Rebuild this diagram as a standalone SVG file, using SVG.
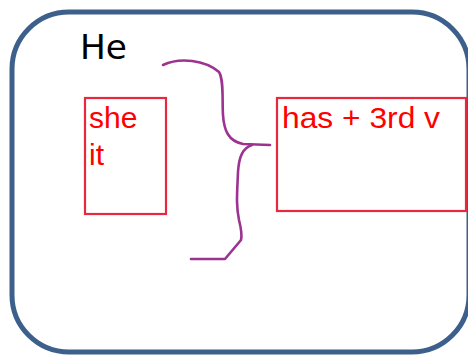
<svg xmlns="http://www.w3.org/2000/svg" width="468" height="355" viewBox="0 0 468 355">
<style>
.frame{fill:#fff;stroke:#3d5f8c;stroke-width:5}
.box{fill:#fff;stroke:#e8283f;stroke-width:2.2}
.lbl{font-family:"Liberation Sans",Arial,sans-serif;font-size:30px;fill:#ff0000}
.brace{fill:none;stroke:#9c3391;stroke-width:2.6;stroke-linecap:round;stroke-linejoin:round}
</style>
<rect width="468" height="355" fill="#fff"/>
<g id="frame">
<rect class="frame" x="12" y="12" width="457" height="340" rx="57" ry="57"/>
<text x="80" y="59" font-family="'Comic Sans MS','DejaVu Sans',sans-serif" font-size="34" fill="#000" textLength="47" lengthAdjust="spacingAndGlyphs">He</text>
</g>
<g id="node-pronouns">
<rect class="box" x="85" y="98" width="81" height="116"/>
<text class="lbl" x="89" y="128">she</text>
<text class="lbl" x="89" y="165">it</text>
</g>
<g id="node-rule">
<rect class="box" x="277" y="98" width="189" height="113"/>
<text class="lbl" x="282" y="128" textLength="158" lengthAdjust="spacingAndGlyphs">has + 3rd v</text>
</g>
<g id="connectors">
<path class="brace" d="M163,65 C180,57 205,60 219,72 C224,80 222,100 223,115 C224,130 228,141 243,144 L270,145"/>
<path class="brace" d="M252,145 C243,148 239,156 238,172 C237,195 236,205 239,220 C242,232 242,236 241,240 L225,259 L191,259"/>
</g>
</svg>
